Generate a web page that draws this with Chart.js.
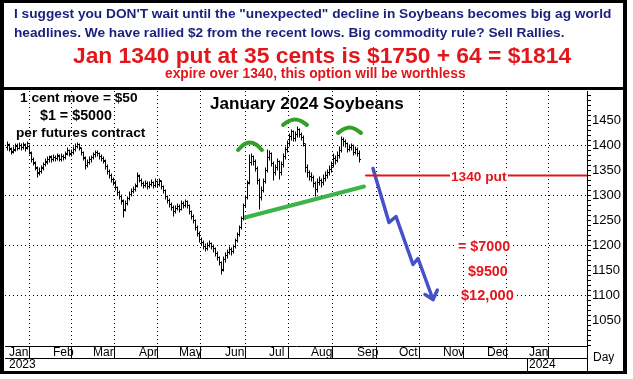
<!DOCTYPE html>
<html><head><meta charset="utf-8">
<script src="https://cdn.jsdelivr.net/npm/chart.js@4.4.0/dist/chart.umd.min.js"></script>
<style>
body{margin:0;background:#fff;width:633px;height:379px;overflow:hidden;position:relative;font-family:Arial,"Liberation Sans",sans-serif;}
#c{position:absolute;left:0;top:0;}
#frame{position:absolute;left:0;top:0;width:627px;height:374px;box-sizing:border-box;border:4px solid #000;border-top-width:3px;border-bottom-width:3px;pointer-events:none;}
#hline{position:absolute;left:0;top:87px;width:627px;height:3px;background:#000;}
.t{position:absolute;white-space:nowrap;font-weight:bold;line-height:1;}
.navy{color:#1b1f7e;font-size:13.7px;}
.red{color:#e3161b;}
.blk{color:#000;font-size:13.7px;}
.wb{background:#fff;padding:0 1px;}
</style></head><body>
<canvas id="c" width="633" height="379"></canvas>
<div id="frame"></div>
<div id="hline"></div>
<div class="t navy" style="left:14px;top:7px;">I suggest you DON'T wait until the &quot;unexpected&quot; decline in Soybeans becomes big ag world</div>
<div class="t navy" style="left:14px;top:26px;">headlines. We have rallied $2 from the recent lows. Big commodity rule? Sell Rallies.</div>
<div class="t red" style="left:73px;top:44px;font-size:22.8px;">Jan 1340 put at 35 cents is $1750 + 64 = $1814</div>
<div class="t red" style="left:165px;top:67px;font-size:13.8px;">expire over 1340, this option will be worthless</div>
<div class="t blk" style="left:20px;top:91px;">1 cent move = $50</div>
<div class="t blk" style="left:40px;top:108px;font-size:14.3px;">$1 = $5000</div>
<div class="t blk" style="left:16px;top:126px;">per futures contract</div>
<div class="t" style="left:210px;top:95px;font-size:17.1px;color:#000;">January 2024 Soybeans</div>
<div class="t red wb" style="left:450px;top:170px;font-size:13.7px;">1340 put</div>
<div class="t red wb" style="left:457px;top:239px;font-size:14.3px;">= $7000</div>
<div class="t red wb" style="left:467px;top:264px;font-size:14.3px;">$9500</div>
<div class="t red wb" style="left:460px;top:288px;font-size:14.6px;">$12,000</div>
<div class="t" style="left:593px;top:351px;font-size:12px;font-weight:normal;color:#000;">Day</div>
<script>
// OHLC values, Jan 2023 .. early Sep 2023 (one bar per weekday)
const opens = [1396,1402,1392,1388,1390,1400,1394,1400,1396,1400,1396,1398,1384,1372,1364,1354,1346,1348,1356,1362,1366,1372,1378,1372,1376,1374,1380,1372,1378,1376,1384,1390,1382,1386,1392,1398,1402,1394,1386,1374,1360,1366,1372,1376,1382,1386,1384,1378,1374,1368,1358,1348,1340,1332,1326,1316,1306,1298,1288,1272,1284,1294,1302,1308,1312,1320,1338,1330,1324,1320,1324,1318,1322,1326,1320,1328,1322,1328,1318,1310,1298,1290,1282,1276,1268,1274,1278,1272,1284,1280,1288,1280,1268,1258,1250,1236,1224,1212,1206,1198,1194,1200,1204,1198,1194,1184,1176,1166,1152,1172,1180,1186,1192,1188,1198,1210,1222,1236,1254,1280,1296,1326,1366,1378,1368,1354,1330,1296,1310,1328,1350,1376,1384,1364,1346,1356,1368,1346,1362,1378,1392,1404,1418,1428,1414,1422,1432,1422,1416,1400,1356,1346,1338,1336,1324,1312,1326,1330,1326,1334,1340,1346,1352,1360,1374,1370,1380,1390,1412,1408,1404,1392,1396,1400,1386,1392,1384];
const highs = [1408,1404,1396,1398,1404,1404,1406,1404,1406,1404,1408,1402,1388,1376,1368,1358,1356,1360,1366,1374,1378,1380,1380,1382,1380,1384,1382,1384,1382,1388,1396,1392,1392,1398,1404,1406,1404,1396,1388,1378,1372,1378,1380,1386,1390,1390,1386,1382,1378,1372,1362,1352,1344,1336,1330,1318,1310,1302,1292,1290,1298,1308,1314,1318,1324,1346,1342,1334,1328,1330,1328,1328,1332,1328,1334,1330,1334,1330,1320,1312,1300,1294,1286,1280,1280,1284,1282,1290,1288,1292,1290,1282,1270,1262,1252,1240,1228,1216,1210,1204,1206,1210,1206,1202,1196,1188,1178,1168,1178,1186,1192,1198,1196,1202,1214,1226,1240,1258,1284,1300,1330,1382,1384,1380,1372,1358,1334,1318,1334,1356,1392,1390,1386,1368,1362,1374,1370,1368,1384,1398,1410,1424,1432,1430,1428,1438,1434,1426,1420,1404,1362,1350,1346,1340,1328,1334,1338,1334,1342,1348,1352,1360,1368,1384,1380,1388,1398,1418,1416,1412,1406,1402,1404,1402,1398,1396,1390];
const lows = [1390,1388,1382,1384,1388,1390,1392,1390,1392,1388,1392,1382,1366,1360,1350,1336,1340,1344,1350,1358,1362,1366,1366,1368,1368,1370,1368,1368,1370,1372,1380,1378,1378,1382,1388,1394,1390,1380,1370,1352,1356,1362,1366,1372,1376,1378,1372,1368,1364,1352,1342,1334,1326,1320,1310,1300,1292,1282,1256,1268,1280,1290,1298,1304,1308,1316,1326,1318,1314,1316,1312,1314,1318,1314,1316,1316,1318,1312,1304,1292,1284,1276,1270,1258,1264,1270,1266,1270,1274,1276,1274,1262,1252,1244,1230,1218,1206,1200,1192,1188,1190,1196,1192,1186,1178,1170,1160,1142,1148,1166,1174,1182,1180,1184,1194,1206,1218,1232,1250,1276,1292,1322,1360,1360,1348,1322,1272,1290,1306,1324,1346,1370,1358,1330,1340,1350,1332,1340,1356,1372,1386,1398,1410,1408,1408,1416,1416,1410,1398,1346,1336,1330,1328,1316,1298,1306,1320,1316,1320,1328,1334,1340,1346,1356,1362,1366,1374,1386,1398,1396,1386,1388,1390,1380,1382,1378,1366];
const closes = [1400,1394,1386,1392,1398,1394,1400,1396,1402,1394,1404,1386,1372,1366,1356,1344,1348,1354,1362,1368,1372,1376,1372,1376,1374,1378,1372,1378,1376,1382,1390,1384,1386,1392,1398,1402,1396,1386,1376,1360,1366,1372,1376,1382,1386,1384,1378,1374,1370,1358,1348,1340,1332,1326,1316,1306,1298,1290,1270,1284,1294,1302,1308,1312,1318,1340,1330,1324,1320,1324,1318,1322,1326,1320,1328,1322,1330,1318,1310,1298,1290,1282,1276,1268,1274,1278,1272,1284,1280,1288,1280,1268,1258,1250,1236,1224,1212,1206,1198,1194,1200,1204,1198,1194,1184,1176,1166,1150,1172,1180,1186,1192,1188,1198,1210,1222,1236,1254,1280,1296,1324,1366,1378,1368,1354,1330,1296,1310,1328,1350,1376,1384,1364,1346,1356,1368,1346,1362,1378,1392,1404,1418,1428,1414,1422,1432,1422,1416,1404,1356,1346,1338,1336,1324,1312,1326,1330,1326,1334,1340,1346,1352,1360,1374,1370,1380,1390,1412,1408,1404,1392,1396,1400,1386,1392,1384,1372];

// x axis: weekday index of each month start
const monthStarts = [0,22,42,65,85,108,130,151,174,195,217,239,260];
const monthLabels = [["Jan","2023"],"Feb","Mar","Apr","May","Jun","Jul","Aug","Sep","Oct","Nov","Dec",["Jan","2024"]];
const yLabels = [1050,1100,1150,1200,1250,1300,1350,1400,1450];
const yGrid = [1100,1200,1300,1400];

// annotations (weekday index, price)
const putLine = [{x:179.5,y:1340},{x:290,y:1340}];
const supportLine = [{x:119,y:1256},{x:178.5,y:1318}];
const arc1 = [{x:115.5,y:1391},{x:118.5,y:1402},{x:121.5,y:1406},{x:124.5,y:1402},{x:127.5,y:1391}];
const arc2 = [{x:138,y:1441},{x:141,y:1449},{x:144,y:1452},{x:147,y:1449},{x:150,y:1441}];
const arc3 = [{x:165.5,y:1425},{x:168.5,y:1433},{x:171.3,y:1436},{x:174,y:1433},{x:177,y:1425}];
const arrowPath = [{x:183,y:1354},{x:191,y:1246},{x:194.5,y:1258},{x:203,y:1162},{x:205.5,y:1174},{x:213,y:1092}];
const arrowHead = [{x:209,y:1102},{x:213,y:1092},{x:215.2,y:1111}];

const hl = highs.map((h,i)=>({x:i+0.25, y:[lows[i],h]}));
const op = opens.map((o,i)=>({x:i-0.125, y:o}));
const cl = closes.map((c,i)=>({x:i+0.625, y:c}));

const lineDs = (data,color,w,tension)=>({type:'line',data,borderColor:color,borderWidth:w,pointRadius:0,tension:tension||0,fill:false,borderCapStyle:'round',borderJoinStyle:'round'});
const tickDs = (data)=>({type:'scatter',data,pointStyle:'line',pointRadius:0.75,pointBorderWidth:1,pointBorderColor:'#000',pointBackgroundColor:'#000'});

const framePlugin = {
  id:'frameLines',
  afterDraw(chart){
    const ctx = chart.ctx, a = chart.chartArea, xs = chart.scales.x;
    ctx.save();
    ctx.strokeStyle='#000'; ctx.lineWidth=1;
    ctx.beginPath();
    ctx.moveTo(a.left, 358.5); ctx.lineTo(a.right, 358.5);
    ctx.moveTo(Math.round(a.right)+0.5, a.bottom); ctx.lineTo(Math.round(a.right)+0.5, 371);
    const jx = Math.round(xs.getPixelForValue(monthStarts[12]))+0.5;
    ctx.moveTo(jx, 358); ctx.lineTo(jx, 371);
    ctx.stroke();
    ctx.restore();
  }
};

new Chart(document.getElementById('c'), {
  type:'bar',
  data:{datasets:[
    {type:'bar',data:hl,backgroundColor:'#000',barThickness:1,borderWidth:0,inflateAmount:0,grouped:false},
    tickDs(op),
    tickDs(cl),
    lineDs(putLine,'#d9161b',2),
    lineDs(supportLine,'#3cb44a',4),
    lineDs(arc1,'#34a02a',4,0.4),
    lineDs(arc2,'#34a02a',4,0.4),
    lineDs(arc3,'#34a02a',4,0.4),
    lineDs(arrowPath,'#4650c8',3.5),
    lineDs(arrowHead,'#4650c8',3.5)
  ]},
  options:{
    responsive:false, animation:false, events:[],
    layout:{padding:{left:5,top:91,right:10,bottom:9}},
    plugins:{legend:{display:false},tooltip:{enabled:false}},
    scales:{
      x:{type:'linear',min:-1,max:290,offset:false,
        afterBuildTicks:s=>{s.ticks=monthStarts.map(v=>({value:v}));},
        afterFit:s=>{s.height=24;},
        grid:{color:c=>c.index===0?'rgba(0,0,0,0)':'#000',lineWidth:1,tickLength:12,tickColor:'#000',drawTicks:true},
        border:{display:true,color:'#000',width:1,dash:[1,3]},
        ticks:{autoSkip:false,maxRotation:0,align:'start',labelOffset:2,padding:-11,color:'#000',
          font:{family:'Arial, "Liberation Sans", sans-serif',size:12,lineHeight:1},
          callback:(v,i)=>monthLabels[i]}
      },
      y:{type:'linear',position:'right',min:999,max:1509,
        afterBuildTicks:s=>{const t=[];for(let v=1000;v<=1500;v+=10)t.push({value:v});s.ticks=t;},
        afterFit:s=>{s.width=36;},
        grid:{color:c=>yGrid.includes(c.tick.value)?'#000':'rgba(0,0,0,0)',lineWidth:1,tickLength:4,tickColor:'#000'},
        border:{display:true,color:'#000',width:1,dash:[1,3]},
        ticks:{autoSkip:false,padding:1,color:'#000',
          font:{family:'Arial, "Liberation Sans", sans-serif',size:13},
          callback:v=>yLabels.includes(v)?String(v):''}
      }
    }
  },
  plugins:[framePlugin]
});
</script>
</body></html>
